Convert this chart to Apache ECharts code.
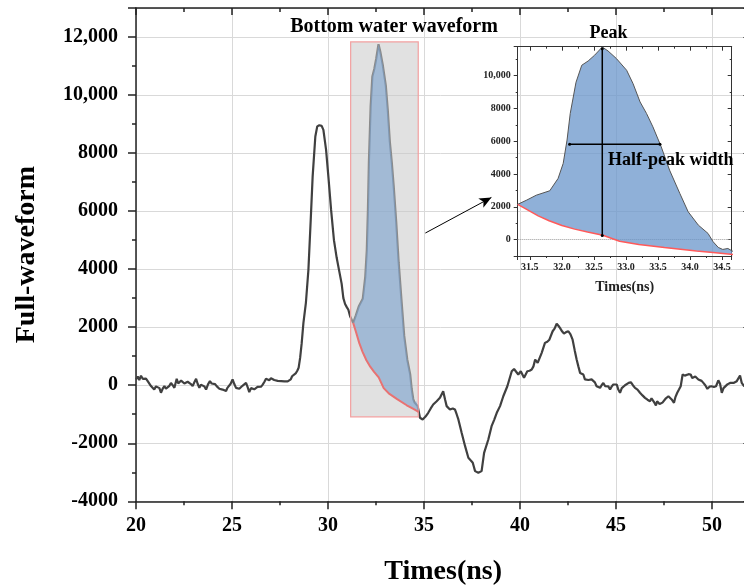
<!DOCTYPE html>
<html><head><meta charset="utf-8">
<script src="https://cdn.jsdelivr.net/npm/echarts@6/dist/echarts.min.js"></script>
<style>html,body{margin:0;padding:0;background:#fff}#c{width:744px;height:588px}</style>
</head><body><div id="c"></div>
<script>
// ---- data ----
const times = [20.00,20.09,20.17,20.26,20.35,20.43,20.52,20.61,20.70,20.78,20.87,20.95,21.04,21.13,21.22,21.30,21.39,21.48,21.56,21.65,21.74,21.82,21.91,22.00,22.12,22.20,22.26,22.35,22.43,22.52,22.60,22.69,22.78,22.86,22.95,23.04,23.13,23.21,23.30,23.38,23.47,23.56,23.65,23.75,23.85,23.94,24.03,24.12,24.20,24.27,24.34,24.42,24.51,24.60,24.69,24.76,24.83,24.93,25.03,25.12,25.21,25.30,25.38,25.47,25.56,25.64,25.73,25.81,25.90,25.99,26.08,26.16,26.25,26.33,26.42,26.51,26.60,26.69,26.77,26.86,26.94,27.03,27.12,27.20,27.29,27.38,27.47,27.56,27.64,27.73,27.81,27.90,27.99,28.06,28.13,28.23,28.33,28.40,28.47,28.55,28.63,28.72,28.85,28.98,29.10,29.20,29.34,29.44,29.55,29.67,29.76,29.90,30.02,30.16,30.31,30.45,30.58,30.71,30.80,30.89,30.97,31.06,31.15,31.31,31.45,31.60,31.81,31.94,32.02,32.08,32.13,32.22,32.31,32.41,32.51,32.63,32.72,32.85,33.01,33.11,33.22,33.32,33.42,33.55,33.68,33.84,33.97,34.13,34.28,34.36,34.44,34.51,34.59,34.67,34.79,34.93,35.08,35.22,35.35,35.48,35.66,35.83,36.00,36.10,36.18,36.35,36.50,36.61,36.70,36.79,36.96,37.14,37.31,37.45,37.54,37.66,37.75,37.83,37.92,38.00,38.13,38.35,38.52,38.65,38.79,38.96,39.13,39.34,39.57,39.69,39.79,39.91,40.04,40.21,40.38,40.50,40.61,40.70,40.79,40.92,41.03,41.13,41.30,41.42,41.53,41.70,41.80,41.91,42.00,42.08,42.20,42.29,42.40,42.52,42.63,42.74,42.85,42.95,43.04,43.13,43.22,43.30,43.38,43.47,43.56,43.65,43.73,43.82,43.90,43.99,44.08,44.17,44.25,44.34,44.43,44.52,44.60,44.69,44.77,44.86,44.95,45.04,45.12,45.21,45.30,45.38,45.47,45.56,45.66,45.77,45.88,45.99,46.12,46.25,46.38,46.51,46.64,46.77,46.85,46.94,47.00,47.08,47.14,47.20,47.27,47.33,47.42,47.50,47.60,47.73,47.82,47.90,48.02,48.10,48.19,48.28,48.37,48.47,48.58,48.68,48.78,48.89,48.97,49.06,49.13,49.20,49.29,49.38,49.46,49.55,49.65,49.76,49.87,49.98,50.10,50.21,50.33,50.42,50.51,50.60,50.68,50.80,50.94,51.03,51.12,51.20,51.29,51.38,51.46,51.55,51.67,51.80,52.00];
const waveform = [200,300,180,330,220,200,230,140,100,-30,-80,-150,-40,-90,-100,-260,-120,-30,-120,-150,-20,80,0,-90,220,60,20,160,140,60,20,120,140,40,-30,100,220,50,-90,20,80,-40,-150,30,140,60,20,40,-30,-90,-120,-60,-150,-100,-200,-90,-120,50,200,40,-90,-40,-120,-60,-10,30,80,-60,-240,-100,-60,-140,-120,-60,-30,-50,20,120,220,190,170,240,220,180,140,150,140,140,140,130,140,130,140,200,310,350,420,500,600,950,1450,2150,2850,3980,5700,7190,8570,8920,8960,8940,8800,8110,7190,6050,5000,4400,3950,3500,3000,2800,2700,2600,2380,2150,2410,2710,2980,3730,4650,6070,7700,9600,10640,10900,11250,11750,11510,11050,10335,9520,8400,7700,6880,5660,4240,2820,1700,880,380,-130,-475,-600,-540,-720,-1120,-1180,-1080,-950,-800,-665,-550,-435,-205,-500,-720,-836,-800,-836,-1000,-1180,-1640,-2100,-2500,-2600,-2670,-2960,-3000,-3015,-2960,-2960,-2330,-1870,-1410,-1200,-950,-720,-380,-35,480,560,540,370,480,255,480,500,540,650,885,770,950,1115,1460,1500,1570,1860,1950,2120,2050,1975,1850,1780,1830,1860,1750,1570,1200,885,650,425,420,370,200,140,180,195,200,255,100,-35,-20,-90,0,80,-30,-90,-40,-150,-50,25,-30,25,-150,-260,-100,-35,0,25,80,105,0,-90,-150,-260,-350,-435,-500,-550,-450,-490,-600,-700,-550,-490,-650,-700,-600,-550,-450,-380,-420,-490,-605,-400,-260,-150,-35,370,330,310,380,370,250,195,300,310,200,140,150,80,0,-125,-50,-35,-60,-35,170,50,-260,-100,-35,30,80,50,80,100,140,150,335,80,-35,50,0];
const baselineTimes = [31.31,31.45,31.63,31.80,32.00,32.20,32.40,32.64,32.90,33.20,33.60,34.10,34.40,34.72];
const baselineValues = [2150,1850,1450,1150,860,640,460,270,-100,-300,-480,-690,-800,-920];
const windowBox = [31.18, -1090, 34.70, 11830];       // bottom-water window [x0, y0, x1, y1]
const peakLine = [[32.63, 11650], [32.63, 250]];
const halfWidthLine = [[32.12, 5820], [33.53, 5820]];
const arrowFrom = [35.07, 5245], arrowTo = [38.51, 6471];
const xTicksMain = [20, 25, 30, 35, 40, 45, 50];
const yTicksMain = [-4000, -2000, 0, 2000, 4000, 6000, 8000, 10000, 12000];

// ---- derived ----
const wavePairs = times.map((t, i) => [t, waveform[i]]);
const basePairs = baselineTimes.map((t, i) => [t, baselineValues[i]]);
const t0 = baselineTimes[0], t1 = baselineTimes[baselineTimes.length - 1];
const fillPoly = wavePairs.filter(p => p[0] >= t0 && p[0] < t1).concat(basePairs.slice().reverse());

const SERIF = "'Times New Roman', 'Liberation Serif', 'DejaVu Serif', serif";
const fmtY = v => Math.abs(v) >= 10000 ? v.toLocaleString('en-US') : String(v);

function polyRender(color, stroke) {
  return function (params, api) {
    if (params.dataIndex !== 0) return null;
    const pts = fillPoly.map(p => api.coord(p));
    return { type: 'polygon', shape: { points: pts }, style: { fill: color, stroke: stroke || null } };
  };
}

const axisDark = { color: '#222', width: 1.5 };
const chart = echarts.init(document.getElementById('c'), null, { renderer: 'canvas' });
chart.setOption({
  animation: false,
  backgroundColor: '#fff',
  grid: [
    { left: 136, top: 8, width: 614.4, height: 493.3, outerBoundsMode: 'none', containLabel: false },
    { left: 517.7, top: 46.7, width: 214, height: 209.3, outerBoundsMode: 'none', containLabel: false }
  ],
  xAxis: [
    { gridIndex: 0, type: 'value', min: xTicksMain[0], max: 52, interval: 5, position: 'bottom',
      axisLine: { onZero: false, lineStyle: axisDark }, axisTick: { length: 8, lineStyle: { width: 1.5, color: '#222' } },
      minorTick: { show: true, splitNumber: 2, length: 4, lineStyle: { width: 1.5, color: '#222' } },
      splitLine: { show: true, lineStyle: { color: '#d9d9d9', width: 1 } },
      axisLabel: { fontFamily: SERIF, fontWeight: 'bold', fontSize: 20, color: '#000', margin: 15, showMaxLabel: false },
      name: 'Times(ns)', nameLocation: 'middle', nameGap: 56,
      nameTextStyle: { fontFamily: SERIF, fontWeight: 'bold', fontSize: 28, color: '#000' } },
    { gridIndex: 0, type: 'value', min: xTicksMain[0], max: 52, interval: 5, position: 'top',
      axisLine: { show: true, onZero: false, lineStyle: axisDark },
      axisTick: { show: true, inside: true, length: 7, lineStyle: { width: 1.5, color: '#222' } },
      minorTick: { show: true, splitNumber: 2, length: 4, lineStyle: { width: 1.5, color: '#222' } },
      axisLabel: { show: false }, splitLine: { show: false } },
    { gridIndex: 1, type: 'value', min: 31.31, max: 34.65, position: 'bottom',
      axisLine: { onZero: false, lineStyle: { color: '#333', width: 1 } }, axisTick: { length: 4, lineStyle: { color: '#333' } },
      minorTick: { show: true, splitNumber: 2, length: 2, lineStyle: { color: '#333' } },
      splitLine: { show: false },
      axisLabel: { fontFamily: SERIF, fontWeight: 'bold', fontSize: 10, color: '#222', margin: 6,
        showMinLabel: false, showMaxLabel: false, formatter: v => v.toFixed(1) },
      name: 'Times(ns)', nameLocation: 'middle', nameGap: 24,
      nameTextStyle: { fontFamily: SERIF, fontWeight: 'bold', fontSize: 14, color: '#222' } },
    { gridIndex: 1, type: 'value', min: 31.31, max: 34.65, position: 'top',
      axisLine: { show: true, onZero: false, lineStyle: { color: '#333', width: 1 } },
      axisTick: { show: true, inside: true, length: 4, lineStyle: { color: '#333' } },
      minorTick: { show: true, splitNumber: 2, length: 2, lineStyle: { color: '#333' } },
      axisLabel: { show: false }, splitLine: { show: false } }
  ],
  yAxis: [
    { gridIndex: 0, type: 'value', min: yTicksMain[0], max: 13000, interval: 2000, position: 'left',
      axisLine: { show: true, onZero: false, lineStyle: axisDark }, axisTick: { show: true, length: 8, lineStyle: { width: 1.5, color: '#222' } },
      minorTick: { show: true, splitNumber: 2, length: 4, lineStyle: { width: 1.5, color: '#222' } },
      splitLine: { show: true, lineStyle: { color: '#d9d9d9', width: 1 } },
      axisLabel: { fontFamily: SERIF, fontWeight: 'bold', fontSize: 20, color: '#000', margin: 18,
        showMaxLabel: false, formatter: fmtY },
      name: 'Full-waveform', nameLocation: 'middle', nameRotate: 90, nameGap: 95,
      nameTextStyle: { fontFamily: SERIF, fontWeight: 'bold', fontSize: 28, color: '#000' } },
    { gridIndex: 0, type: 'value', min: yTicksMain[0], max: 13000, interval: 2000, position: 'right',
      axisLine: { show: true, onZero: false, lineStyle: axisDark }, axisTick: { show: true, inside: true, length: 7 },
      axisLabel: { show: false }, splitLine: { show: false } },
    { gridIndex: 1, type: 'value', min: -1000, max: 11770, splitNumber: 6, position: 'left',
      axisLine: { show: true, onZero: false, lineStyle: { color: '#333', width: 1 } },
      axisTick: { show: true, length: 4, lineStyle: { color: '#333' } },
      minorTick: { show: true, splitNumber: 2, length: 2, lineStyle: { color: '#333' } },
      splitLine: { show: false },
      axisLabel: { fontFamily: SERIF, fontWeight: 'bold', fontSize: 10, color: '#222', margin: 7,
        showMinLabel: false, showMaxLabel: false, formatter: fmtY } },
    { gridIndex: 1, type: 'value', min: -1000, max: 11770, splitNumber: 6, position: 'right',
      axisLine: { show: true, onZero: false, lineStyle: { color: '#333', width: 1 } },
      axisTick: { show: true, inside: true, length: 4, lineStyle: { color: '#333' } },
      minorTick: { show: true, splitNumber: 2, length: 2, lineStyle: { color: '#333' } },
      axisLabel: { show: false }, splitLine: { show: false } }
  ],
  graphic: [
    { type: 'text', style: { text: 'Bottom water waveform', x: 394, y: 27,
      align: 'center', verticalAlign: 'middle', font: "bold 20px " + SERIF, fill: '#000' }, z: 20 },
    { type: 'text', style: { text: 'Peak', x: 608.5, y: 33, align: 'center', verticalAlign: 'middle',
      font: "bold 18px " + SERIF, fill: '#000' }, z: 20 },
    { type: 'text', style: { text: 'Half-peak width', x: 608, y: 160, align: 'left', verticalAlign: 'middle',
      font: "bold 18px " + SERIF, fill: '#000' }, z: 20 }
  ],
  series: [
    { name: 'Full-waveform', type: 'line', xAxisIndex: 0, yAxisIndex: 0, data: wavePairs,
      showSymbol: false, symbol: 'none', z: 2, lineStyle: { color: '#404040', width: 2.2 },
      markLine: { silent: true, symbol: ['none', 'arrow'], symbolSize: [8, 12],
        lineStyle: { color: '#000', width: 1, type: 'solid' }, label: { show: false },
        data: [[{ coord: arrowFrom }, { coord: arrowTo }]] } },
    { name: 'window', type: 'custom', xAxisIndex: 0, yAxisIndex: 0, data: [windowBox], z: 3,
      renderItem: (params, api) => {
        const a = api.coord([api.value(0), api.value(3)]);
        const b = api.coord([api.value(2), api.value(1)]);
        return { type: 'rect', shape: { x: a[0], y: a[1], width: b[0] - a[0], height: b[1] - a[1] },
          style: { fill: 'rgba(200,200,200,0.55)', stroke: '#f2a0a0', lineWidth: 1.2 } };
      } },
    { name: 'fill-main', type: 'custom', xAxisIndex: 0, yAxisIndex: 0, data: fillPoly, z: 4,
      encode: { x: 0, y: 1 }, renderItem: polyRender('rgba(120,160,205,0.6)') },
    { name: 'baseline-main', type: 'line', xAxisIndex: 0, yAxisIndex: 0, data: basePairs, z: 5,
      showSymbol: false, symbol: 'none', lineStyle: { color: '#e87272', width: 2 } },
    // inset
    { name: 'fill-inset', type: 'custom', xAxisIndex: 2, yAxisIndex: 2, data: fillPoly, z: 6, clip: true,
      encode: { x: 0, y: 1 }, renderItem: polyRender('rgba(106,150,203,0.75)') },
    { name: 'wave-inset', type: 'line', xAxisIndex: 2, yAxisIndex: 2, data: wavePairs, z: 7, clip: true,
      showSymbol: false, symbol: 'none', lineStyle: { color: '#555', width: 1 },
      markLine: { silent: true, symbol: 'none', label: { show: false },
        lineStyle: { color: '#999', width: 1, type: 'dotted' }, data: [{ yAxis: 0 }] } },
    { name: 'baseline-inset', type: 'line', xAxisIndex: 2, yAxisIndex: 2, data: basePairs, z: 8, clip: true,
      showSymbol: false, symbol: 'none', lineStyle: { color: '#ff5a5a', width: 1.5 } },
    { name: 'peak', type: 'line', xAxisIndex: 2, yAxisIndex: 2, data: peakLine, z: 9,
      symbol: 'circle', symbolSize: 3, itemStyle: { color: '#000' }, lineStyle: { color: '#000', width: 1.5 } },
    { name: 'half-width', type: 'line', xAxisIndex: 2, yAxisIndex: 2, data: halfWidthLine, z: 9,
      symbol: 'circle', symbolSize: 3, itemStyle: { color: '#000' }, lineStyle: { color: '#000', width: 1.5 } }
  ]
});
</script></body></html>
